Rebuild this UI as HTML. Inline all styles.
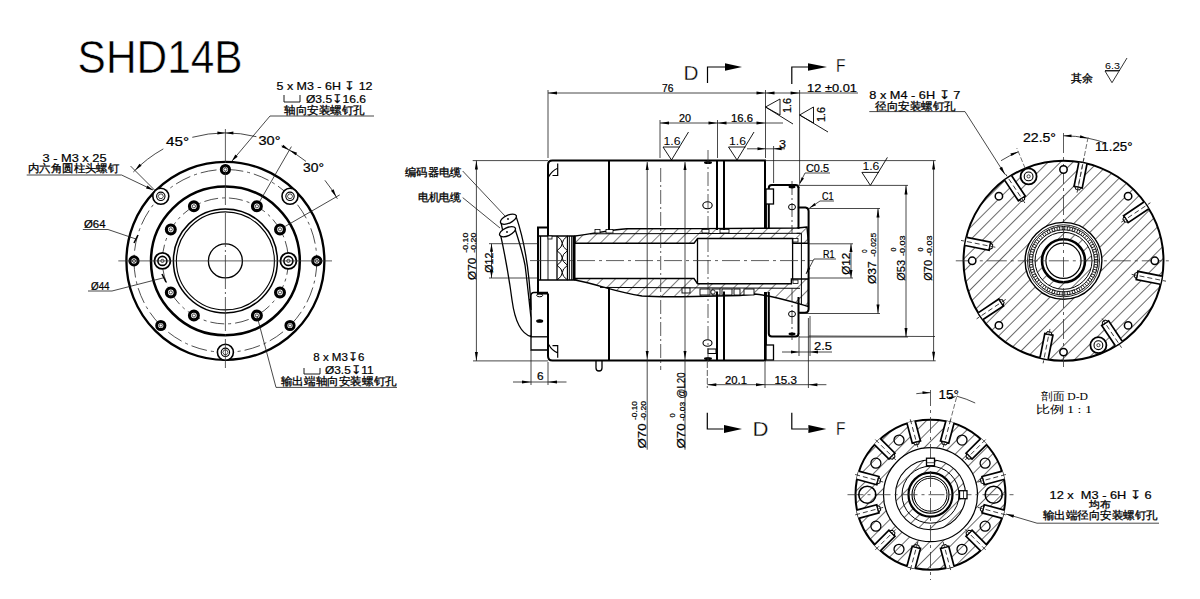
<!DOCTYPE html>
<html><head><meta charset="utf-8"><style>
html,body{margin:0;padding:0;background:#fff;width:1200px;height:599px;overflow:hidden}
svg{display:block}
text{fill:#000}
</style></head><body>
<svg width="1200" height="599" viewBox="0 0 1200 599">
<rect width="1200" height="599" fill="#fff"/>
<defs>
<pattern id="hatch" patternUnits="userSpaceOnUse" x="1.9" width="9" height="9" patternTransform="rotate(45)">
<line x1="0" y1="0" x2="0" y2="9" stroke="#000" stroke-width="1.0"/></pattern>
<pattern id="hatch2" patternUnits="userSpaceOnUse" x="1.65" width="8.8" height="8.8" patternTransform="rotate(45)">
<line x1="0" y1="0" x2="0" y2="8.8" stroke="#000" stroke-width="1.15"/></pattern>
</defs>
<text x="77.6" y="72.8" font-size="45.5" text-anchor="start" font-family='"Liberation Sans", sans-serif' textLength="165" lengthAdjust="spacingAndGlyphs" stroke="#fff" stroke-width="0.5">SHD14B</text>
<circle cx="225.4" cy="260.9" r="99.0" stroke="#000" stroke-width="2.3" fill="none"/>
<circle cx="225.4" cy="260.9" r="91.4" stroke="#222" stroke-width="0.8" fill="none" stroke-dasharray="16 4 3 4"/>
<circle cx="225.4" cy="260.9" r="74.4" stroke="#000" stroke-width="2.5" fill="none"/>
<circle cx="225.4" cy="260.9" r="63.0" stroke="#222" stroke-width="0.8" fill="none" stroke-dasharray="14 4 3 4"/>
<circle cx="225.4" cy="260.9" r="52.0" stroke="#000" stroke-width="1.5" fill="none"/>
<circle cx="225.4" cy="260.9" r="49.0" stroke="#000" stroke-width="1.1" fill="none"/>
<circle cx="225.4" cy="260.9" r="17.0" stroke="#000" stroke-width="1.3" fill="none"/>
<circle cx="316.8" cy="260.9" r="4.1" stroke="#000" stroke-width="3.0" fill="#fff"/>
<circle cx="316.8" cy="260.9" r="1.6" stroke="#000" stroke-width="0.7" fill="none"/>
<circle cx="225.4" cy="169.5" r="4.1" stroke="#000" stroke-width="3.0" fill="#fff"/>
<circle cx="225.4" cy="169.5" r="1.6" stroke="#000" stroke-width="0.7" fill="none"/>
<circle cx="134.0" cy="260.9" r="4.1" stroke="#000" stroke-width="3.0" fill="#fff"/>
<circle cx="134.0" cy="260.9" r="1.6" stroke="#000" stroke-width="0.7" fill="none"/>
<circle cx="160.8" cy="325.5" r="4.1" stroke="#000" stroke-width="3.0" fill="#fff"/>
<circle cx="160.8" cy="325.5" r="1.6" stroke="#000" stroke-width="0.7" fill="none"/>
<circle cx="290.0" cy="325.5" r="4.1" stroke="#000" stroke-width="3.0" fill="#fff"/>
<circle cx="290.0" cy="325.5" r="1.6" stroke="#000" stroke-width="0.7" fill="none"/>
<circle cx="290.0" cy="196.3" r="8.0" stroke="#000" stroke-width="1.6" fill="#fff"/>
<circle cx="290.0" cy="196.3" r="4.2" stroke="#000" stroke-width="1.1" fill="none"/>
<polygon points="292.6,196.3 291.3,198.5 288.7,198.5 287.4,196.3 288.7,194.0 291.3,194.0" stroke="#000" stroke-width="0.7" fill="none"/>
<circle cx="160.8" cy="196.3" r="8.0" stroke="#000" stroke-width="1.6" fill="#fff"/>
<circle cx="160.8" cy="196.3" r="4.2" stroke="#000" stroke-width="1.1" fill="none"/>
<polygon points="163.4,196.3 162.1,198.5 159.5,198.5 158.2,196.3 159.5,194.0 162.1,194.0" stroke="#000" stroke-width="0.7" fill="none"/>
<circle cx="225.4" cy="352.3" r="8.0" stroke="#000" stroke-width="1.6" fill="#fff"/>
<circle cx="225.4" cy="352.3" r="4.2" stroke="#000" stroke-width="1.1" fill="none"/>
<polygon points="228.0,352.3 226.7,354.6 224.1,354.6 222.8,352.3 224.1,350.0 226.7,350.0" stroke="#000" stroke-width="0.7" fill="none"/>
<circle cx="280.0" cy="229.4" r="4.4" stroke="#000" stroke-width="3.2" fill="#fff"/>
<circle cx="280.0" cy="229.4" r="1.6" stroke="#000" stroke-width="0.7" fill="none"/>
<circle cx="256.9" cy="206.3" r="4.4" stroke="#000" stroke-width="3.2" fill="#fff"/>
<circle cx="256.9" cy="206.3" r="1.6" stroke="#000" stroke-width="0.7" fill="none"/>
<circle cx="193.9" cy="206.3" r="4.4" stroke="#000" stroke-width="3.2" fill="#fff"/>
<circle cx="193.9" cy="206.3" r="1.6" stroke="#000" stroke-width="0.7" fill="none"/>
<circle cx="170.8" cy="229.4" r="4.4" stroke="#000" stroke-width="3.2" fill="#fff"/>
<circle cx="170.8" cy="229.4" r="1.6" stroke="#000" stroke-width="0.7" fill="none"/>
<circle cx="170.8" cy="292.4" r="4.4" stroke="#000" stroke-width="3.2" fill="#fff"/>
<circle cx="170.8" cy="292.4" r="1.6" stroke="#000" stroke-width="0.7" fill="none"/>
<circle cx="193.9" cy="315.5" r="4.4" stroke="#000" stroke-width="3.2" fill="#fff"/>
<circle cx="193.9" cy="315.5" r="1.6" stroke="#000" stroke-width="0.7" fill="none"/>
<circle cx="256.9" cy="315.5" r="4.4" stroke="#000" stroke-width="3.2" fill="#fff"/>
<circle cx="256.9" cy="315.5" r="1.6" stroke="#000" stroke-width="0.7" fill="none"/>
<circle cx="280.0" cy="292.4" r="4.4" stroke="#000" stroke-width="3.2" fill="#fff"/>
<circle cx="280.0" cy="292.4" r="1.6" stroke="#000" stroke-width="0.7" fill="none"/>
<circle cx="288.4" cy="260.9" r="8.0" stroke="#000" stroke-width="1.8" fill="#fff"/>
<circle cx="288.4" cy="260.9" r="4.5" stroke="#000" stroke-width="1.6" fill="none"/>
<circle cx="288.4" cy="260.9" r="1.6" stroke="#000" stroke-width="0.7" fill="none"/>
<circle cx="162.4" cy="260.9" r="8.0" stroke="#000" stroke-width="1.8" fill="#fff"/>
<circle cx="162.4" cy="260.9" r="4.5" stroke="#000" stroke-width="1.6" fill="none"/>
<circle cx="162.4" cy="260.9" r="1.6" stroke="#000" stroke-width="0.7" fill="none"/>
<line x1="118.3" y1="260.9" x2="332.0" y2="260.9" stroke="#333" stroke-width="0.8" fill="none"/>
<line x1="225.4" y1="129.0" x2="225.4" y2="368.0" stroke="#333" stroke-width="0.8" fill="none" stroke-dasharray="34 3 2 3"/>
<path d="M133.3,172.0 A128,128 0 0 1 163.3,148.9" stroke="#1a1a1a" stroke-width="0.8" fill="none"/>
<path d="M192.3,137.3 A128,128 0 0 1 256.4,136.7" stroke="#1a1a1a" stroke-width="0.8" fill="none"/>
<path d="M281.5,145.9 A128,128 0 0 1 306.0,161.4" stroke="#1a1a1a" stroke-width="0.8" fill="none"/>
<path d="M324.9,180.3 A128,128 0 0 1 337.4,198.8" stroke="#1a1a1a" stroke-width="0.8" fill="none"/>
<path d="M134.9,170.4 L139.5,163.7 L141.6,165.8 Z" fill="#000"/>
<path d="M225.4,132.9 L217.4,134.4 L217.4,131.4 Z" fill="#000"/>
<path d="M289.4,150.0 L297.1,152.7 L295.6,155.3 Z" fill="#000"/>
<path d="M336.3,196.9 L331.0,190.7 L333.6,189.2 Z" fill="#000"/>
<path d="M289.4,150.0 L281.7,147.3 L283.2,144.7 Z" fill="#000"/>
<path d="M225.4,132.9 L233.4,131.4 L233.4,134.4 Z" fill="#000"/>
<line x1="155.4" y1="190.9" x2="130.6" y2="166.1" stroke="#1a1a1a" stroke-width="0.8" fill="none"/>
<line x1="259.9" y1="201.1" x2="291.4" y2="146.6" stroke="#1a1a1a" stroke-width="0.8" fill="none"/>
<line x1="285.2" y1="226.4" x2="339.7" y2="194.9" stroke="#1a1a1a" stroke-width="0.8" fill="none"/>
<text x="166.0" y="146.0" font-size="12.5" text-anchor="start" font-family='"Liberation Sans", sans-serif' textLength="23" lengthAdjust="spacingAndGlyphs"  stroke="#000" stroke-width="0.22">45°</text>
<text x="258.5" y="145.0" font-size="12.5" text-anchor="start" font-family='"Liberation Sans", sans-serif' textLength="22" lengthAdjust="spacingAndGlyphs"  stroke="#000" stroke-width="0.22">30°</text>
<text x="303.0" y="172.0" font-size="12.5" text-anchor="start" font-family='"Liberation Sans", sans-serif' textLength="21" lengthAdjust="spacingAndGlyphs"  stroke="#000" stroke-width="0.22">30°</text>
<text x="324.5" y="90.0" font-size="11.5" text-anchor="middle" font-family='"Liberation Sans", sans-serif' textLength="96" lengthAdjust="spacingAndGlyphs"  stroke="#000" stroke-width="0.22">5 x M3 - 6H ↧ 12</text>
<path d="M284,95 v7 h16 v-7" stroke="#000" stroke-width="0.9" fill="none"/>
<text x="306.0" y="103.0" font-size="11.5" text-anchor="start" font-family='"Liberation Sans", sans-serif' textLength="60" lengthAdjust="spacingAndGlyphs"  stroke="#000" stroke-width="0.22">Ø3.5↧16.6</text>
<text x="324.5" y="113.7" font-size="11" text-anchor="middle" font-family='"Liberation Sans", sans-serif' textLength="81" lengthAdjust="spacingAndGlyphs"  stroke="#000" stroke-width="0.3">轴向安装螺钉孔</text>
<line x1="270.0" y1="116.0" x2="374.0" y2="116.0" stroke="#1a1a1a" stroke-width="0.8" fill="none"/>
<line x1="270.0" y1="116.0" x2="232.0" y2="161.0" stroke="#1a1a1a" stroke-width="0.8" fill="none"/>
<path d="M232.0,161.0 L235.3,154.6 L237.7,156.7 Z" fill="#000"/>
<text x="74.5" y="162.2" font-size="11.5" text-anchor="middle" font-family='"Liberation Sans", sans-serif' textLength="64" lengthAdjust="spacingAndGlyphs"  stroke="#000" stroke-width="0.22">3 - M3 x 25</text>
<text x="73.5" y="171.7" font-size="11" text-anchor="middle" font-family='"Liberation Sans", sans-serif' textLength="91" lengthAdjust="spacingAndGlyphs"  stroke="#000" stroke-width="0.3">内六角圆柱头螺钉</text>
<line x1="26.7" y1="175.0" x2="121.6" y2="175.0" stroke="#1a1a1a" stroke-width="0.8" fill="none"/>
<line x1="121.6" y1="175.0" x2="153.0" y2="190.0" stroke="#1a1a1a" stroke-width="0.8" fill="none"/>
<path d="M153.0,190.0 L146.0,188.4 L147.4,185.5 Z" fill="#000"/>
<text x="84.0" y="228.0" font-size="11" text-anchor="start" font-family='"Liberation Sans", sans-serif' textLength="21.5" lengthAdjust="spacingAndGlyphs"  stroke="#000" stroke-width="0.22">Ø64</text>
<line x1="82.8" y1="229.5" x2="108.0" y2="229.5" stroke="#1a1a1a" stroke-width="0.8" fill="none"/>
<line x1="108.0" y1="229.5" x2="136.0" y2="239.0" stroke="#1a1a1a" stroke-width="0.8" fill="none"/>
<line x1="134.0" y1="243.0" x2="138.0" y2="235.0" stroke="#000" stroke-width="1.6"/>
<text x="91.0" y="290.0" font-size="11" text-anchor="start" font-family='"Liberation Sans", sans-serif' textLength="18.6" lengthAdjust="spacingAndGlyphs"  stroke="#000" stroke-width="0.22">Ø44</text>
<line x1="88.0" y1="291.0" x2="112.0" y2="291.0" stroke="#1a1a1a" stroke-width="0.8" fill="none"/>
<line x1="112.0" y1="291.0" x2="164.0" y2="277.7" stroke="#1a1a1a" stroke-width="0.8" fill="none"/>
<line x1="162.0" y1="274.0" x2="166.0" y2="282.0" stroke="#000" stroke-width="1.6"/>
<text x="338.8" y="361.4" font-size="11.5" text-anchor="middle" font-family='"Liberation Sans", sans-serif' textLength="51" lengthAdjust="spacingAndGlyphs"  stroke="#000" stroke-width="0.22">8 x M3↧6</text>
<path d="M304,368 v6 h16 v-6" stroke="#000" stroke-width="0.9" fill="none"/>
<text x="325.0" y="374.0" font-size="11.5" text-anchor="start" font-family='"Liberation Sans", sans-serif' textLength="48.5" lengthAdjust="spacingAndGlyphs"  stroke="#000" stroke-width="0.22">Ø3.5↧11</text>
<text x="338.8" y="385.2" font-size="11" text-anchor="middle" font-family='"Liberation Sans", sans-serif' textLength="116" lengthAdjust="spacingAndGlyphs"  stroke="#000" stroke-width="0.3">输出端轴向安装螺钉孔</text>
<line x1="276.0" y1="387.4" x2="397.0" y2="387.4" stroke="#1a1a1a" stroke-width="0.8" fill="none"/>
<line x1="276.0" y1="387.4" x2="257.0" y2="316.0" stroke="#1a1a1a" stroke-width="0.8" fill="none"/>
<path d="M575,236 C595,233.5 610,230 627,228.8 L700,228.6 L796.7,228 Q803,227.5 807,227 L808.4,243.2 L792.6,243.2 L792.6,238.5 L697.6,238.5 L694,243.2 L575,243.2 Z" fill="url(#hatch)" stroke="#000" stroke-width="1.4"/>
<path d="M575,278.5 L694,278.5 L697.5,283.7 L791.4,283.7 L791.4,279 L808.4,279 L808.4,306.5 C790,301 775,296 754.7,294 L740,295.5 L694,296.5 C670,297 655,297 642,296 C615,292 600,285 575,280 Z" fill="url(#hatch)" stroke="#000" stroke-width="1.4"/>
<line x1="590.0" y1="233.8" x2="800.0" y2="233.3" stroke="#000" stroke-width="1.0"/>
<line x1="600.0" y1="287.4" x2="800.0" y2="288.3" stroke="#000" stroke-width="1.0"/>
<rect x="595" y="229.5" width="5" height="3.5" stroke="#000" stroke-width="0.8" fill="#fff"/>
<rect x="606" y="229.5" width="7" height="3.5" stroke="#000" stroke-width="0.8" fill="#fff"/>
<rect x="702" y="229.5" width="7" height="3.5" stroke="#000" stroke-width="0.8" fill="#fff"/>
<rect x="720" y="229.5" width="9" height="3.5" stroke="#000" stroke-width="0.8" fill="#fff"/>
<rect x="700" y="289" width="10" height="6" stroke="#000" stroke-width="0.9" fill="#fff"/>
<rect x="712" y="289" width="8" height="6" stroke="#000" stroke-width="0.9" fill="#fff"/>
<rect x="722" y="289" width="10" height="6" stroke="#000" stroke-width="0.9" fill="#fff"/>
<rect x="734" y="289" width="6" height="6" stroke="#000" stroke-width="0.9" fill="#fff"/>
<rect x="744" y="289" width="10" height="6" stroke="#000" stroke-width="0.9" fill="#fff"/>
<circle cx="713" cy="292" r="2.2" stroke="#000" stroke-width="0.9" fill="#fff"/>
<rect x="682" y="288" width="8" height="5" stroke="#000" stroke-width="0.9" fill="#fff"/>
<line x1="697.5" y1="238.5" x2="697.5" y2="283.7" stroke="#000" stroke-width="1.3" fill="none"/>
<line x1="792.6" y1="238.5" x2="792.6" y2="279.0" stroke="#000" stroke-width="1.3" fill="none"/>
<path d="M796.7,233.3 L801.4,233.3 L801.4,304.7" stroke="#000" stroke-width="1.0" fill="none"/>
<rect x="793" y="238.5" width="5" height="3.5" stroke="#000" stroke-width="0.8" fill="#fff"/>
<rect x="793" y="280" width="5" height="3.5" stroke="#000" stroke-width="0.8" fill="#fff"/>
<path d="M548,236 L548,165 Q548,160.6 552.5,160.6 L765,160.6 L765,229" stroke="#000" stroke-width="2" fill="none"/>
<path d="M548,293.5 L548,356 Q548,360.6 552.5,360.6 L765,360.6 L765,292" stroke="#000" stroke-width="2" fill="none"/>
<line x1="609.0" y1="160.6" x2="609.0" y2="230.0" stroke="#000" stroke-width="2" fill="none"/>
<line x1="717.0" y1="160.6" x2="717.0" y2="230.0" stroke="#000" stroke-width="2" fill="none"/>
<line x1="724.0" y1="160.6" x2="724.0" y2="230.0" stroke="#000" stroke-width="2" fill="none"/>
<line x1="609.0" y1="360.6" x2="609.0" y2="287.5" stroke="#000" stroke-width="2" fill="none"/>
<line x1="717.0" y1="360.6" x2="717.0" y2="291.5" stroke="#000" stroke-width="2" fill="none"/>
<line x1="724.0" y1="360.6" x2="724.0" y2="291.5" stroke="#000" stroke-width="2" fill="none"/>
<rect x="708" y="349" width="8" height="4.5" stroke="#000" stroke-width="1" fill="#fff"/>
<path d="M548.5,177 Q552,170.5 557.7,168.3 M557.7,163.4 L557.7,175.5 L552.5,175.5" stroke="#000" stroke-width="1.2" fill="none"/>
<path d="M548.5,344.2 Q552,350.7 557.7,352.9 M557.7,357.8 L557.7,345.7 L552.5,345.7" stroke="#000" stroke-width="1.2" fill="none"/>
<ellipse cx="707.5" cy="205.3" rx="4.7" ry="3.5" stroke="#000" stroke-width="1.1" fill="none"/>
<ellipse cx="707.5" cy="343" rx="4.5" ry="3.3" stroke="#000" stroke-width="1.1" fill="none"/>
<ellipse cx="708" cy="162.5" rx="4" ry="1.5" fill="#000"/>
<ellipse cx="708" cy="358.5" rx="4" ry="1.5" fill="#000"/>
<path d="M548,227.5 L538,227.5 L538,293.5 L548,293.5" stroke="#000" stroke-width="2" fill="none"/>
<line x1="540.5" y1="236.0" x2="540.5" y2="280.0" stroke="#000" stroke-width="1.3" fill="none"/>
<line x1="538.0" y1="236.0" x2="575.0" y2="236.0" stroke="#000" stroke-width="1.3" fill="none"/>
<line x1="538.0" y1="280.0" x2="575.0" y2="280.0" stroke="#000" stroke-width="1.3" fill="none"/>
<line x1="548.0" y1="236.0" x2="548.0" y2="280.0" stroke="#000" stroke-width="0.9"/>
<line x1="557.0" y1="236.0" x2="557.0" y2="280.0" stroke="#000" stroke-width="1.3" fill="none"/>
<line x1="567.5" y1="236.0" x2="567.5" y2="280.0" stroke="#000" stroke-width="1.3" fill="none"/>
<path d="M557,236.0 Q567.5,243.3 557,250.7" stroke="#000" stroke-width="1.0" fill="none"/>
<path d="M567.5,236.0 Q557,243.3 567.5,250.7" stroke="#000" stroke-width="1.0" fill="none"/>
<path d="M557,250.7 Q567.5,258.0 557,265.3" stroke="#000" stroke-width="1.0" fill="none"/>
<path d="M567.5,250.7 Q557,258.0 567.5,265.3" stroke="#000" stroke-width="1.0" fill="none"/>
<path d="M557,265.3 Q567.5,272.7 557,280.0" stroke="#000" stroke-width="1.0" fill="none"/>
<path d="M567.5,265.3 Q557,272.7 567.5,280.0" stroke="#000" stroke-width="1.0" fill="none"/>
<line x1="569.5" y1="236.0" x2="569.5" y2="280.0" stroke="#000" stroke-width="0.8"/>
<line x1="571.5" y1="236.0" x2="571.5" y2="280.0" stroke="#000" stroke-width="0.8"/>
<rect x="572.5" y="236" width="3" height="44" fill="#000"/>
<rect x="548" y="236" width="4" height="3" stroke="#000" stroke-width="0.8" fill="#fff"/>
<path d="M768.8,229 L768.8,188 Q768.8,185 771.8,185 L795.5,185 Q798.5,185 798.5,188" stroke="#000" stroke-width="2" fill="none"/>
<path d="M768.8,292 L768.8,333.6 Q768.8,336.6 771.8,336.6 L795.5,336.6 Q798.5,336.6 798.5,333.6" stroke="#000" stroke-width="2" fill="none"/>
<rect x="766" y="189" width="7.5" height="15" stroke="#000" stroke-width="1.3" fill="#fff"/>
<rect x="766" y="345" width="7.5" height="15" stroke="#000" stroke-width="1.3" fill="#fff"/>
<line x1="766.3" y1="204.0" x2="766.3" y2="229.0" stroke="#000" stroke-width="1.3" fill="none"/>
<line x1="766.3" y1="292.0" x2="766.3" y2="345.0" stroke="#000" stroke-width="1.3" fill="none"/>
<line x1="792.0" y1="181.0" x2="792.0" y2="233.0" stroke="#222" stroke-width="0.8" fill="none" stroke-dasharray="14 3 2 3"/>
<line x1="792.0" y1="288.0" x2="792.0" y2="340.0" stroke="#222" stroke-width="0.8" fill="none" stroke-dasharray="14 3 2 3"/>
<ellipse cx="792" cy="187" rx="3.5" ry="1.4" fill="#000"/>
<ellipse cx="792" cy="207" rx="3.5" ry="2.8" stroke="#000" stroke-width="1" fill="none"/>
<ellipse cx="792" cy="314" rx="3.5" ry="2.8" stroke="#000" stroke-width="1" fill="none"/>
<ellipse cx="792" cy="334" rx="3.5" ry="1.4" fill="#000"/>
<path d="M797.8,207.6 L805.5,207.6 Q808.4,208 808.6,211 L808.6,309.3 Q808.4,312.8 805,312.8 L798.4,312.8" stroke="#000" stroke-width="2" fill="none"/>
<line x1="798.5" y1="187.0" x2="798.5" y2="229.0" stroke="#000" stroke-width="2" fill="none"/>
<line x1="798.5" y1="297.0" x2="798.5" y2="334.0" stroke="#000" stroke-width="2" fill="none"/>
<line x1="548.0" y1="260.6" x2="813.0" y2="260.6" stroke="#333" stroke-width="0.8" fill="none" stroke-dasharray="18 4 3 4"/>
<line x1="530.0" y1="260.6" x2="548.0" y2="260.6" stroke="#333" stroke-width="0.8" fill="none" stroke-dasharray="18 4 3 4"/>
<line x1="660.7" y1="168.0" x2="660.7" y2="370.0" stroke="#333" stroke-width="0.8" fill="none" stroke-dasharray="14 3 2 3"/>
<line x1="708.0" y1="150.0" x2="708.0" y2="362.0" stroke="#333" stroke-width="0.8" fill="none" stroke-dasharray="14 3 2 3"/>
<line x1="647.2" y1="162.0" x2="647.2" y2="449.7" stroke="#1a1a1a" stroke-width="0.8" fill="none"/>
<line x1="685.0" y1="162.0" x2="685.0" y2="449.7" stroke="#1a1a1a" stroke-width="0.8" fill="none"/>
<path d="M647.2,162.0 L648.7,170.0 L645.7,170.0 Z" fill="#000"/>
<path d="M685.0,162.0 L686.5,170.0 L683.5,170.0 Z" fill="#000"/>
<path d="M647.2,359.0 L645.7,351.0 L648.7,351.0 Z" fill="#000"/>
<path d="M685.0,359.0 L683.5,351.0 L686.5,351.0 Z" fill="#000"/>
<path d="M531,296 Q531,292.5 534,292.5 L548,292.5 M531,296 L531,350 L548,350" stroke="#000" stroke-width="1.3" fill="none"/>
<line x1="531.0" y1="336.8" x2="548.0" y2="336.8" stroke="#000" stroke-width="1.3" fill="none"/>
<ellipse cx="539.7" cy="295.3" rx="3" ry="1.5" stroke="#000" stroke-width="1" fill="none"/>
<ellipse cx="539.7" cy="321" rx="3" ry="1.3" stroke="#000" stroke-width="1.1" fill="#000"/>
<path d="M596,361 L596,368 Q596,371 599,371 Q602,371 602,368 L602,361" stroke="#000" stroke-width="1.3" fill="none"/>
<path d="M500.8,221.7 C505,240 509,260 512,290 L530,300 L531,310 C530,280 526,245 515.9,215.9 Z" stroke="#000" stroke-width="1.3" fill="#fff"/>
<ellipse cx="508.4" cy="219.2" rx="8.6" ry="4" transform="rotate(-25 508.4 219.2)" stroke="#000" stroke-width="1.3" fill="#fff"/>
<path d="M500.4,234.2 C505,255 510,285 512,300 C515,322 522,334 531,336.5 L531,318 C529,300 527,280 525,265 C522,250 518,238 515,229 Z" stroke="#000" stroke-width="1.3" fill="#fff"/>
<ellipse cx="507.5" cy="231.7" rx="8.6" ry="4" transform="rotate(-25 507.5 231.7)" stroke="#000" stroke-width="1.3" fill="#fff"/>
<circle cx="508" cy="219" r="0.9" fill="#000"/><circle cx="507" cy="232" r="0.9" fill="#000"/>
<line x1="548.0" y1="90.0" x2="548.0" y2="158.0" stroke="#1a1a1a" stroke-width="0.8" fill="none"/>
<line x1="765.5" y1="90.0" x2="765.5" y2="158.0" stroke="#1a1a1a" stroke-width="0.8" fill="none"/>
<line x1="799.6" y1="90.0" x2="799.6" y2="183.0" stroke="#1a1a1a" stroke-width="0.8" fill="none"/>
<line x1="548.0" y1="93.0" x2="858.0" y2="93.0" stroke="#1a1a1a" stroke-width="0.8" fill="none"/>
<text x="662.0" y="92.0" font-size="11.5" text-anchor="start" font-family='"Liberation Sans", sans-serif' textLength="11.5" lengthAdjust="spacingAndGlyphs"  stroke="#000" stroke-width="0.22">76</text>
<path d="M548.0,93.0 L557.0,91.5 L557.0,94.5 Z" fill="#000"/>
<path d="M765.5,93.0 L756.5,94.5 L756.5,91.5 Z" fill="#000"/>
<path d="M765.5,93.0 L774.5,91.5 L774.5,94.5 Z" fill="#000"/>
<path d="M799.6,93.0 L790.6,94.5 L790.6,91.5 Z" fill="#000"/>
<text x="807.0" y="92.0" font-size="11.5" text-anchor="start" font-family='"Liberation Sans", sans-serif' textLength="50" lengthAdjust="spacingAndGlyphs"  stroke="#000" stroke-width="0.22">12 ±0.01</text>
<line x1="660.0" y1="120.0" x2="660.0" y2="158.0" stroke="#1a1a1a" stroke-width="0.8" fill="none"/>
<line x1="717.5" y1="120.0" x2="717.5" y2="158.0" stroke="#1a1a1a" stroke-width="0.8" fill="none"/>
<line x1="660.0" y1="123.0" x2="765.5" y2="123.0" stroke="#1a1a1a" stroke-width="0.8" fill="none"/>
<path d="M660.0,123.0 L669.0,121.5 L669.0,124.5 Z" fill="#000"/>
<path d="M717.5,123.0 L708.5,124.5 L708.5,121.5 Z" fill="#000"/>
<path d="M717.5,123.0 L726.5,121.5 L726.5,124.5 Z" fill="#000"/>
<path d="M765.5,123.0 L756.5,124.5 L756.5,121.5 Z" fill="#000"/>
<line x1="765.5" y1="123.0" x2="783.0" y2="123.0" stroke="#1a1a1a" stroke-width="0.8" fill="none"/>
<text x="679.0" y="121.6" font-size="11.5" text-anchor="start" font-family='"Liberation Sans", sans-serif' textLength="12" lengthAdjust="spacingAndGlyphs"  stroke="#000" stroke-width="0.22">20</text>
<text x="731.0" y="121.6" font-size="11.5" text-anchor="start" font-family='"Liberation Sans", sans-serif' textLength="22" lengthAdjust="spacingAndGlyphs"  stroke="#000" stroke-width="0.22">16.6</text>
<line x1="773.6" y1="146.0" x2="773.6" y2="183.0" stroke="#1a1a1a" stroke-width="0.8" fill="none"/>
<line x1="747.0" y1="148.8" x2="785.0" y2="148.8" stroke="#1a1a1a" stroke-width="0.8" fill="none"/>
<path d="M765.5,148.8 L757.5,150.3 L757.5,147.3 Z" fill="#000"/>
<path d="M773.6,148.8 L781.6,147.3 L781.6,150.3 Z" fill="#000"/>
<text x="779.0" y="148.0" font-size="11.5" text-anchor="start" font-family='"Liberation Sans", sans-serif' textLength="7" lengthAdjust="spacingAndGlyphs"  stroke="#000" stroke-width="0.22">3</text>
<g transform="rotate(0 671.5 160)"><path d="M680.0,147 L663.0,147 L671.5,160 L688.5,132" stroke="#000" stroke-width="0.9" fill="none"/><text x="663.5" y="145" font-size="11.5" font-family='"Liberation Sans", sans-serif' textLength="17" lengthAdjust="spacingAndGlyphs">1.6</text></g>
<g transform="rotate(0 737 160)"><path d="M745.5,147 L728.5,147 L737,160 L754,132" stroke="#000" stroke-width="0.9" fill="none"/><text x="729" y="145" font-size="11.5" font-family='"Liberation Sans", sans-serif' textLength="17" lengthAdjust="spacingAndGlyphs">1.6</text></g>
<g transform="rotate(0 870.4 185.4)"><path d="M878.9,172.4 L861.9,172.4 L870.4,185.4 L887.4,157.4" stroke="#000" stroke-width="0.9" fill="none"/><text x="862.4" y="170.4" font-size="11.5" font-family='"Liberation Sans", sans-serif' textLength="17" lengthAdjust="spacingAndGlyphs">1.6</text></g>
<path d="M780,99 L780,115 L765.5,107 L780,99 M765.5,107 L793,124" stroke="#000" stroke-width="0.9" fill="none"/>
<text transform="translate(790.5,113) rotate(-90)" font-size="11" font-family='"Liberation Sans", sans-serif' textLength="15" lengthAdjust="spacingAndGlyphs" stroke="#000" stroke-width="0.22">1.6</text>
<path d="M813.5,107 L813.5,123 L799.6,115 L813.5,107 M799.6,115 L828,132" stroke="#000" stroke-width="0.9" fill="none"/>
<text transform="translate(824.5,122) rotate(-90)" font-size="11" font-family='"Liberation Sans", sans-serif' textLength="15" lengthAdjust="spacingAndGlyphs" stroke="#000" stroke-width="0.22">1.6</text>
<path d="M707.5,83 L707.5,67 L725,67" stroke="#000" stroke-width="1.2" fill="none"/>
<path d="M742.0,67.0 L725.0,70.8 L725.0,63.2 Z" fill="#000"/>
<text x="683.5" y="80.0" font-size="19.5" text-anchor="start" font-family='"Liberation Sans", sans-serif' textLength="15" lengthAdjust="spacingAndGlyphs" stroke="#fff" stroke-width="0.3">D</text>
<path d="M791.8,84 L791.8,67 L808,67" stroke="#000" stroke-width="1.2" fill="none"/>
<path d="M827.0,67.0 L808.0,70.8 L808.0,63.2 Z" fill="#000"/>
<text x="836.0" y="72.0" font-size="19" text-anchor="start" font-family='"Liberation Sans", sans-serif' textLength="9.5" lengthAdjust="spacingAndGlyphs" stroke="#fff" stroke-width="0.3">F</text>
<path d="M707.3,412.8 L707.3,429 L723.5,429" stroke="#000" stroke-width="1.2" fill="none"/>
<path d="M742.0,429.0 L724.0,433.0 L724.0,425.0 Z" fill="#000"/>
<text x="752.5" y="435.6" font-size="20.5" text-anchor="start" font-family='"Liberation Sans", sans-serif' textLength="16" lengthAdjust="spacingAndGlyphs" stroke="#fff" stroke-width="0.3">D</text>
<path d="M791.8,412.8 L791.8,429 L808,429" stroke="#000" stroke-width="1.2" fill="none"/>
<path d="M826.4,429.0 L808.4,433.0 L808.4,425.0 Z" fill="#000"/>
<text x="836.0" y="434.5" font-size="19" text-anchor="start" font-family='"Liberation Sans", sans-serif' textLength="9.5" lengthAdjust="spacingAndGlyphs" stroke="#fff" stroke-width="0.3">F</text>
<line x1="707.3" y1="362.0" x2="707.3" y2="388.0" stroke="#333" stroke-width="0.8" stroke-dasharray="6 2"/>
<line x1="765.0" y1="362.0" x2="765.0" y2="388.0" stroke="#1a1a1a" stroke-width="0.8" fill="none"/>
<line x1="808.4" y1="318.0" x2="808.4" y2="388.0" stroke="#1a1a1a" stroke-width="0.8" fill="none"/>
<line x1="707.3" y1="384.7" x2="826.4" y2="384.7" stroke="#1a1a1a" stroke-width="0.8" fill="none"/>
<path d="M707.3,384.7 L716.3,383.2 L716.3,386.2 Z" fill="#000"/>
<path d="M765.0,384.7 L756.0,386.2 L756.0,383.2 Z" fill="#000"/>
<path d="M808.4,384.7 L817.4,383.2 L817.4,386.2 Z" fill="#000"/>
<text x="725.0" y="383.6" font-size="11.5" text-anchor="start" font-family='"Liberation Sans", sans-serif' textLength="22" lengthAdjust="spacingAndGlyphs"  stroke="#000" stroke-width="0.22">20.1</text>
<text x="774.4" y="383.6" font-size="11.5" text-anchor="start" font-family='"Liberation Sans", sans-serif' textLength="22.6" lengthAdjust="spacingAndGlyphs"  stroke="#000" stroke-width="0.22">15.3</text>
<line x1="531.0" y1="350.0" x2="531.0" y2="385.0" stroke="#1a1a1a" stroke-width="0.8" fill="none"/>
<line x1="548.0" y1="362.0" x2="548.0" y2="385.0" stroke="#1a1a1a" stroke-width="0.8" fill="none"/>
<line x1="513.0" y1="382.0" x2="566.5" y2="382.0" stroke="#1a1a1a" stroke-width="0.8" fill="none"/>
<path d="M531.0,382.0 L522.0,383.5 L522.0,380.5 Z" fill="#000"/>
<path d="M548.0,382.0 L557.0,380.5 L557.0,383.5 Z" fill="#000"/>
<text x="537.0" y="380.0" font-size="11.5" text-anchor="start" font-family='"Liberation Sans", sans-serif' textLength="6.6" lengthAdjust="spacingAndGlyphs"  stroke="#000" stroke-width="0.22">6</text>
<line x1="799.0" y1="336.0" x2="799.0" y2="356.0" stroke="#1a1a1a" stroke-width="0.8" fill="none"/>
<line x1="810.0" y1="316.0" x2="810.0" y2="356.0" stroke="#1a1a1a" stroke-width="0.8" fill="none"/>
<line x1="782.0" y1="352.0" x2="832.0" y2="352.0" stroke="#1a1a1a" stroke-width="0.8" fill="none"/>
<path d="M799.0,352.0 L791.0,353.5 L791.0,350.5 Z" fill="#000"/>
<path d="M810.0,352.0 L818.0,350.5 L818.0,353.5 Z" fill="#000"/>
<text x="814.0" y="350.0" font-size="11.5" text-anchor="start" font-family='"Liberation Sans", sans-serif' textLength="18" lengthAdjust="spacingAndGlyphs"  stroke="#000" stroke-width="0.22">2.5</text>
<line x1="809.0" y1="336.0" x2="935.0" y2="336.5" stroke="#1a1a1a" stroke-width="0.8" fill="none"/>
<text transform="translate(646.2,448.5) rotate(-90)" font-size="10.5" font-family='"Liberation Sans", sans-serif' textLength="25" lengthAdjust="spacingAndGlyphs" stroke="#000" stroke-width="0.22">Ø70</text>
<text transform="translate(637,420) rotate(-90)" font-size="6.5" font-family='"Liberation Sans", sans-serif' textLength="19" lengthAdjust="spacingAndGlyphs" stroke="#000" stroke-width="0.22">-0.10</text>
<text transform="translate(646.2,420.5) rotate(-90)" font-size="6.5" font-family='"Liberation Sans", sans-serif' textLength="19.5" lengthAdjust="spacingAndGlyphs" stroke="#000" stroke-width="0.22">-0.20</text>
<text transform="translate(684.6,448.5) rotate(-90)" font-size="10.5" font-family='"Liberation Sans", sans-serif' textLength="25" lengthAdjust="spacingAndGlyphs" stroke="#000" stroke-width="0.22">Ø70</text>
<text transform="translate(684.6,421) rotate(-90)" font-size="6.5" font-family='"Liberation Sans", sans-serif' textLength="19.3" lengthAdjust="spacingAndGlyphs" stroke="#000" stroke-width="0.22">-0.03</text>
<text transform="translate(675.3,417.6) rotate(-90)" font-size="6.5" font-family='"Liberation Sans", sans-serif' textLength="4.2" lengthAdjust="spacingAndGlyphs" stroke="#000" stroke-width="0.22">0</text>
<text transform="translate(684.6,398.4) rotate(-90)" font-size="10.5" font-family='"Liberation Sans", sans-serif' textLength="26" lengthAdjust="spacingAndGlyphs" stroke="#000" stroke-width="0.22">@L20</text>
<line x1="472.7" y1="160.6" x2="548.0" y2="160.6" stroke="#1a1a1a" stroke-width="0.8" fill="none"/>
<line x1="473.0" y1="360.9" x2="548.0" y2="360.9" stroke="#1a1a1a" stroke-width="0.8" fill="none"/>
<line x1="476.4" y1="160.6" x2="476.4" y2="360.9" stroke="#1a1a1a" stroke-width="0.8" fill="none"/>
<path d="M476.4,160.6 L477.9,169.6 L474.9,169.6 Z" fill="#000"/>
<path d="M476.4,360.9 L474.9,351.9 L477.9,351.9 Z" fill="#000"/>
<text transform="translate(475.5,280) rotate(-90)" font-size="10.5" font-family='"Liberation Sans", sans-serif' textLength="22.3" lengthAdjust="spacingAndGlyphs" stroke="#000" stroke-width="0.22">Ø70</text>
<text transform="translate(468,252.7) rotate(-90)" font-size="6.5" font-family='"Liberation Sans", sans-serif' textLength="20" lengthAdjust="spacingAndGlyphs" stroke="#000" stroke-width="0.22">-0.10</text>
<text transform="translate(475.5,252.7) rotate(-90)" font-size="6.5" font-family='"Liberation Sans", sans-serif' textLength="20" lengthAdjust="spacingAndGlyphs" stroke="#000" stroke-width="0.22">-0.20</text>
<line x1="489.0" y1="243.7" x2="537.6" y2="243.7" stroke="#1a1a1a" stroke-width="0.8" fill="none"/>
<line x1="489.0" y1="278.0" x2="537.6" y2="278.0" stroke="#1a1a1a" stroke-width="0.8" fill="none"/>
<line x1="491.5" y1="243.7" x2="491.5" y2="278.0" stroke="#1a1a1a" stroke-width="0.8" fill="none"/>
<path d="M491.5,243.7 L493.0,251.7 L490.0,251.7 Z" fill="#000"/>
<path d="M491.5,278.0 L490.0,270.0 L493.0,270.0 Z" fill="#000"/>
<text transform="translate(493,272.7) rotate(-90)" font-size="10" font-family='"Liberation Sans", sans-serif' textLength="20" lengthAdjust="spacingAndGlyphs" stroke="#000" stroke-width="0.22">Ø12</text>
<text x="405.0" y="176.2" font-size="11" text-anchor="start" font-family='"Liberation Sans", sans-serif' textLength="56.4" lengthAdjust="spacingAndGlyphs"  stroke="#000" stroke-width="0.3">编码器电缆</text>
<text x="417.6" y="201.3" font-size="11" text-anchor="start" font-family='"Liberation Sans", sans-serif' textLength="43.8" lengthAdjust="spacingAndGlyphs"  stroke="#000" stroke-width="0.3">电机电缆</text>
<line x1="462.7" y1="171.0" x2="505.0" y2="216.0" stroke="#1a1a1a" stroke-width="0.8" fill="none"/>
<line x1="462.7" y1="197.6" x2="500.0" y2="228.0" stroke="#1a1a1a" stroke-width="0.8" fill="none"/>
<line x1="765.0" y1="160.6" x2="935.7" y2="160.6" stroke="#1a1a1a" stroke-width="0.8" fill="none"/>
<line x1="799.0" y1="185.4" x2="908.0" y2="185.4" stroke="#1a1a1a" stroke-width="0.8" fill="none"/>
<line x1="809.0" y1="208.5" x2="880.0" y2="208.5" stroke="#1a1a1a" stroke-width="0.8" fill="none"/>
<line x1="809.0" y1="243.8" x2="853.0" y2="243.8" stroke="#1a1a1a" stroke-width="0.8" fill="none"/>
<line x1="809.0" y1="278.0" x2="853.0" y2="278.0" stroke="#1a1a1a" stroke-width="0.8" fill="none"/>
<line x1="799.0" y1="313.5" x2="880.0" y2="313.5" stroke="#1a1a1a" stroke-width="0.8" fill="none"/>
<line x1="799.0" y1="337.0" x2="908.0" y2="337.0" stroke="#1a1a1a" stroke-width="0.8" fill="none"/>
<line x1="765.0" y1="360.8" x2="935.7" y2="360.8" stroke="#1a1a1a" stroke-width="0.8" fill="none"/>
<line x1="933.6" y1="160.6" x2="933.6" y2="360.8" stroke="#1a1a1a" stroke-width="0.8" fill="none"/>
<path d="M933.6,160.6 L935.1,169.6 L932.1,169.6 Z" fill="#000"/>
<path d="M933.6,360.8 L932.1,351.8 L935.1,351.8 Z" fill="#000"/>
<line x1="906.0" y1="185.4" x2="906.0" y2="337.0" stroke="#1a1a1a" stroke-width="0.8" fill="none"/>
<path d="M906.0,185.4 L907.5,194.4 L904.5,194.4 Z" fill="#000"/>
<path d="M906.0,337.0 L904.5,328.0 L907.5,328.0 Z" fill="#000"/>
<line x1="878.0" y1="208.5" x2="878.0" y2="313.5" stroke="#1a1a1a" stroke-width="0.8" fill="none"/>
<path d="M878.0,208.5 L879.5,217.5 L876.5,217.5 Z" fill="#000"/>
<path d="M878.0,313.5 L876.5,304.5 L879.5,304.5 Z" fill="#000"/>
<line x1="851.0" y1="243.8" x2="851.0" y2="278.0" stroke="#1a1a1a" stroke-width="0.8" fill="none"/>
<path d="M851.0,244.0 L852.5,252.0 L849.5,252.0 Z" fill="#000"/>
<path d="M851.0,278.0 L849.5,270.0 L852.5,270.0 Z" fill="#000"/>
<text transform="translate(849.5,274.7) rotate(-90)" font-size="10.5" font-family='"Liberation Sans", sans-serif' textLength="22" lengthAdjust="spacingAndGlyphs" stroke="#000" stroke-width="0.22">Ø12</text>
<text transform="translate(876,284) rotate(-90)" font-size="11" font-family='"Liberation Sans", sans-serif' textLength="22.6" lengthAdjust="spacingAndGlyphs" stroke="#000" stroke-width="0.22">Ø37</text>
<text transform="translate(876,256.7) rotate(-90)" font-size="7.5" font-family='"Liberation Sans", sans-serif' textLength="24" lengthAdjust="spacingAndGlyphs" stroke="#000" stroke-width="0.22">-0.025</text>
<text transform="translate(866.8,252.7) rotate(-90)" font-size="7.5" font-family='"Liberation Sans", sans-serif' textLength="3.3" lengthAdjust="spacingAndGlyphs" stroke="#000" stroke-width="0.22">0</text>
<text transform="translate(904.8,280.7) rotate(-90)" font-size="11" font-family='"Liberation Sans", sans-serif' textLength="20.7" lengthAdjust="spacingAndGlyphs" stroke="#000" stroke-width="0.22">Ø53</text>
<text transform="translate(904.8,256) rotate(-90)" font-size="7.5" font-family='"Liberation Sans", sans-serif' textLength="20.6" lengthAdjust="spacingAndGlyphs" stroke="#000" stroke-width="0.22">-0.03</text>
<text transform="translate(896,251.4) rotate(-90)" font-size="7.5" font-family='"Liberation Sans", sans-serif' textLength="4" lengthAdjust="spacingAndGlyphs" stroke="#000" stroke-width="0.22">0</text>
<text transform="translate(932.2,280.7) rotate(-90)" font-size="11" font-family='"Liberation Sans", sans-serif' textLength="20.7" lengthAdjust="spacingAndGlyphs" stroke="#000" stroke-width="0.22">Ø70</text>
<text transform="translate(932.2,256) rotate(-90)" font-size="7.5" font-family='"Liberation Sans", sans-serif' textLength="20.6" lengthAdjust="spacingAndGlyphs" stroke="#000" stroke-width="0.22">-0.03</text>
<text transform="translate(923.4,251.4) rotate(-90)" font-size="7.5" font-family='"Liberation Sans", sans-serif' textLength="4" lengthAdjust="spacingAndGlyphs" stroke="#000" stroke-width="0.22">0</text>
<text x="806.0" y="172.0" font-size="11.5" text-anchor="start" font-family='"Liberation Sans", sans-serif' textLength="23" lengthAdjust="spacingAndGlyphs"  stroke="#000" stroke-width="0.22">C0.5</text>
<line x1="805.0" y1="173.0" x2="830.0" y2="173.0" stroke="#1a1a1a" stroke-width="0.8" fill="none"/>
<line x1="805.0" y1="173.0" x2="799.0" y2="185.0" stroke="#1a1a1a" stroke-width="0.8" fill="none"/>
<path d="M799.5,184.0 L801.7,177.2 L804.0,178.5 Z" fill="#000"/>
<text x="822.0" y="200.0" font-size="11.5" text-anchor="start" font-family='"Liberation Sans", sans-serif' textLength="11.5" lengthAdjust="spacingAndGlyphs"  stroke="#000" stroke-width="0.22">C1</text>
<line x1="820.0" y1="201.0" x2="834.0" y2="201.0" stroke="#1a1a1a" stroke-width="0.8" fill="none"/>
<line x1="820.0" y1="201.0" x2="809.5" y2="208.0" stroke="#1a1a1a" stroke-width="0.8" fill="none"/>
<path d="M809.5,208.0 L814.6,203.0 L816.0,205.2 Z" fill="#000"/>
<text x="823.0" y="258.0" font-size="11.5" text-anchor="start" font-family='"Liberation Sans", sans-serif' textLength="11.5" lengthAdjust="spacingAndGlyphs"  stroke="#000" stroke-width="0.22">R1</text>
<line x1="814.0" y1="259.0" x2="836.0" y2="259.0" stroke="#1a1a1a" stroke-width="0.8" fill="none"/>
<line x1="814.0" y1="259.0" x2="806.0" y2="274.0" stroke="#1a1a1a" stroke-width="0.8" fill="none"/>
<path d="M806.0,274.0 L808.1,267.2 L810.4,268.4 Z" fill="#000"/>
<text x="869.3" y="99.0" font-size="11.5" text-anchor="start" font-family='"Liberation Sans", sans-serif' textLength="91" lengthAdjust="spacingAndGlyphs"  stroke="#000" stroke-width="0.22">8 x M4 - 6H ↧ 7</text>
<text x="875.0" y="109.7" font-size="11" text-anchor="start" font-family='"Liberation Sans", sans-serif' textLength="80.7" lengthAdjust="spacingAndGlyphs"  stroke="#000" stroke-width="0.3">径向安装螺钉孔</text>
<line x1="869.3" y1="111.6" x2="965.0" y2="111.6" stroke="#1a1a1a" stroke-width="0.8" fill="none"/>
<line x1="965.0" y1="111.6" x2="1005.0" y2="174.4" stroke="#1a1a1a" stroke-width="0.8" fill="none"/>
<path d="M1005.0,174.4 L999.4,168.5 L1002.0,166.8 Z" fill="#000"/>
<text x="1071.0" y="81.7" font-size="11" text-anchor="start" font-family='"Liberation Sans", sans-serif' textLength="22" lengthAdjust="spacingAndGlyphs"  stroke="#000" stroke-width="0.3">其余</text>
<path d="M1105,70.5 L1120,70.5 M1105,71 L1112,82.7 L1127,58 M1105,71 L1118.5,71" stroke="#000" stroke-width="0.8" fill="none"/>
<text x="1105.0" y="68.8" font-size="9.5" text-anchor="start" font-family='"Liberation Sans", sans-serif' textLength="15" lengthAdjust="spacingAndGlyphs" stroke="none">6.3</text>
<clipPath id="ddclip"><path clip-rule="evenodd" d="M963.5,260.8 a100,100 0 1 0 200,0 a100,100 0 1 0 -200,0 Z M1025.1,260.8 a38.4,38.4 0 1 0 76.8,0 a38.4,38.4 0 1 0 -76.8,0 Z M1035.0,260.8 a28.5,28.5 0 1 0 57,0 a28.5,28.5 0 1 0 -57,0 Z M1042.0,260.8 a21.5,21.5 0 1 0 43,0 a21.5,21.5 0 1 0 -43,0 Z"/></clipPath>
<g clip-path="url(#ddclip)"><rect x="963.5" y="160.8" width="200" height="200" fill="url(#hatch2)"/></g>
<circle cx="1063.5" cy="260.8" r="100.0" stroke="#000" stroke-width="2" fill="none"/>
<circle cx="1063.5" cy="260.8" r="38.4" stroke="#000" stroke-width="1.4" fill="none"/>
<circle cx="1063.5" cy="260.8" r="36.0" stroke="#000" stroke-width="0.9" fill="none"/>
<circle cx="1063.5" cy="260.8" r="34.3" stroke="#000" stroke-width="0.8" fill="none"/>
<circle cx="1063.5" cy="260.8" r="31.0" stroke="#000" stroke-width="0.8" fill="none"/>
<rect x="-1.3" y="-1.6" width="2.6" height="3.2" transform="translate(1063.5,260.8) rotate(0) translate(0,-32.65)" stroke="#000" stroke-width="0.8" fill="#fff"/>
<rect x="-1.3" y="-1.6" width="2.6" height="3.2" transform="translate(1063.5,260.8) rotate(9) translate(0,-32.65)" stroke="#000" stroke-width="0.8" fill="#fff"/>
<rect x="-1.3" y="-1.6" width="2.6" height="3.2" transform="translate(1063.5,260.8) rotate(18) translate(0,-32.65)" stroke="#000" stroke-width="0.8" fill="#fff"/>
<rect x="-1.3" y="-1.6" width="2.6" height="3.2" transform="translate(1063.5,260.8) rotate(27) translate(0,-32.65)" stroke="#000" stroke-width="0.8" fill="#fff"/>
<rect x="-1.3" y="-1.6" width="2.6" height="3.2" transform="translate(1063.5,260.8) rotate(36) translate(0,-32.65)" stroke="#000" stroke-width="0.8" fill="#fff"/>
<rect x="-1.3" y="-1.6" width="2.6" height="3.2" transform="translate(1063.5,260.8) rotate(45) translate(0,-32.65)" stroke="#000" stroke-width="0.8" fill="#fff"/>
<rect x="-1.3" y="-1.6" width="2.6" height="3.2" transform="translate(1063.5,260.8) rotate(54) translate(0,-32.65)" stroke="#000" stroke-width="0.8" fill="#fff"/>
<rect x="-1.3" y="-1.6" width="2.6" height="3.2" transform="translate(1063.5,260.8) rotate(63) translate(0,-32.65)" stroke="#000" stroke-width="0.8" fill="#fff"/>
<rect x="-1.3" y="-1.6" width="2.6" height="3.2" transform="translate(1063.5,260.8) rotate(72) translate(0,-32.65)" stroke="#000" stroke-width="0.8" fill="#fff"/>
<rect x="-1.3" y="-1.6" width="2.6" height="3.2" transform="translate(1063.5,260.8) rotate(81) translate(0,-32.65)" stroke="#000" stroke-width="0.8" fill="#fff"/>
<rect x="-1.3" y="-1.6" width="2.6" height="3.2" transform="translate(1063.5,260.8) rotate(90) translate(0,-32.65)" stroke="#000" stroke-width="0.8" fill="#fff"/>
<rect x="-1.3" y="-1.6" width="2.6" height="3.2" transform="translate(1063.5,260.8) rotate(99) translate(0,-32.65)" stroke="#000" stroke-width="0.8" fill="#fff"/>
<rect x="-1.3" y="-1.6" width="2.6" height="3.2" transform="translate(1063.5,260.8) rotate(108) translate(0,-32.65)" stroke="#000" stroke-width="0.8" fill="#fff"/>
<rect x="-1.3" y="-1.6" width="2.6" height="3.2" transform="translate(1063.5,260.8) rotate(117) translate(0,-32.65)" stroke="#000" stroke-width="0.8" fill="#fff"/>
<rect x="-1.3" y="-1.6" width="2.6" height="3.2" transform="translate(1063.5,260.8) rotate(126) translate(0,-32.65)" stroke="#000" stroke-width="0.8" fill="#fff"/>
<rect x="-1.3" y="-1.6" width="2.6" height="3.2" transform="translate(1063.5,260.8) rotate(135) translate(0,-32.65)" stroke="#000" stroke-width="0.8" fill="#fff"/>
<rect x="-1.3" y="-1.6" width="2.6" height="3.2" transform="translate(1063.5,260.8) rotate(144) translate(0,-32.65)" stroke="#000" stroke-width="0.8" fill="#fff"/>
<rect x="-1.3" y="-1.6" width="2.6" height="3.2" transform="translate(1063.5,260.8) rotate(153) translate(0,-32.65)" stroke="#000" stroke-width="0.8" fill="#fff"/>
<rect x="-1.3" y="-1.6" width="2.6" height="3.2" transform="translate(1063.5,260.8) rotate(162) translate(0,-32.65)" stroke="#000" stroke-width="0.8" fill="#fff"/>
<rect x="-1.3" y="-1.6" width="2.6" height="3.2" transform="translate(1063.5,260.8) rotate(171) translate(0,-32.65)" stroke="#000" stroke-width="0.8" fill="#fff"/>
<rect x="-1.3" y="-1.6" width="2.6" height="3.2" transform="translate(1063.5,260.8) rotate(180) translate(0,-32.65)" stroke="#000" stroke-width="0.8" fill="#fff"/>
<rect x="-1.3" y="-1.6" width="2.6" height="3.2" transform="translate(1063.5,260.8) rotate(189) translate(0,-32.65)" stroke="#000" stroke-width="0.8" fill="#fff"/>
<rect x="-1.3" y="-1.6" width="2.6" height="3.2" transform="translate(1063.5,260.8) rotate(198) translate(0,-32.65)" stroke="#000" stroke-width="0.8" fill="#fff"/>
<rect x="-1.3" y="-1.6" width="2.6" height="3.2" transform="translate(1063.5,260.8) rotate(207) translate(0,-32.65)" stroke="#000" stroke-width="0.8" fill="#fff"/>
<rect x="-1.3" y="-1.6" width="2.6" height="3.2" transform="translate(1063.5,260.8) rotate(216) translate(0,-32.65)" stroke="#000" stroke-width="0.8" fill="#fff"/>
<rect x="-1.3" y="-1.6" width="2.6" height="3.2" transform="translate(1063.5,260.8) rotate(225) translate(0,-32.65)" stroke="#000" stroke-width="0.8" fill="#fff"/>
<rect x="-1.3" y="-1.6" width="2.6" height="3.2" transform="translate(1063.5,260.8) rotate(234) translate(0,-32.65)" stroke="#000" stroke-width="0.8" fill="#fff"/>
<rect x="-1.3" y="-1.6" width="2.6" height="3.2" transform="translate(1063.5,260.8) rotate(243) translate(0,-32.65)" stroke="#000" stroke-width="0.8" fill="#fff"/>
<rect x="-1.3" y="-1.6" width="2.6" height="3.2" transform="translate(1063.5,260.8) rotate(252) translate(0,-32.65)" stroke="#000" stroke-width="0.8" fill="#fff"/>
<rect x="-1.3" y="-1.6" width="2.6" height="3.2" transform="translate(1063.5,260.8) rotate(261) translate(0,-32.65)" stroke="#000" stroke-width="0.8" fill="#fff"/>
<rect x="-1.3" y="-1.6" width="2.6" height="3.2" transform="translate(1063.5,260.8) rotate(270) translate(0,-32.65)" stroke="#000" stroke-width="0.8" fill="#fff"/>
<rect x="-1.3" y="-1.6" width="2.6" height="3.2" transform="translate(1063.5,260.8) rotate(279) translate(0,-32.65)" stroke="#000" stroke-width="0.8" fill="#fff"/>
<rect x="-1.3" y="-1.6" width="2.6" height="3.2" transform="translate(1063.5,260.8) rotate(288) translate(0,-32.65)" stroke="#000" stroke-width="0.8" fill="#fff"/>
<rect x="-1.3" y="-1.6" width="2.6" height="3.2" transform="translate(1063.5,260.8) rotate(297) translate(0,-32.65)" stroke="#000" stroke-width="0.8" fill="#fff"/>
<rect x="-1.3" y="-1.6" width="2.6" height="3.2" transform="translate(1063.5,260.8) rotate(306) translate(0,-32.65)" stroke="#000" stroke-width="0.8" fill="#fff"/>
<rect x="-1.3" y="-1.6" width="2.6" height="3.2" transform="translate(1063.5,260.8) rotate(315) translate(0,-32.65)" stroke="#000" stroke-width="0.8" fill="#fff"/>
<rect x="-1.3" y="-1.6" width="2.6" height="3.2" transform="translate(1063.5,260.8) rotate(324) translate(0,-32.65)" stroke="#000" stroke-width="0.8" fill="#fff"/>
<rect x="-1.3" y="-1.6" width="2.6" height="3.2" transform="translate(1063.5,260.8) rotate(333) translate(0,-32.65)" stroke="#000" stroke-width="0.8" fill="#fff"/>
<rect x="-1.3" y="-1.6" width="2.6" height="3.2" transform="translate(1063.5,260.8) rotate(342) translate(0,-32.65)" stroke="#000" stroke-width="0.8" fill="#fff"/>
<rect x="-1.3" y="-1.6" width="2.6" height="3.2" transform="translate(1063.5,260.8) rotate(351) translate(0,-32.65)" stroke="#000" stroke-width="0.8" fill="#fff"/>
<circle cx="1063.5" cy="260.8" r="28.5" stroke="#000" stroke-width="1.0" fill="none"/>
<circle cx="1063.5" cy="260.8" r="21.5" stroke="#000" stroke-width="2.6" fill="none"/>
<circle cx="1063.5" cy="260.8" r="17.6" stroke="#000" stroke-width="1.2" fill="none"/>
<line x1="955.8" y1="260.8" x2="1170.8" y2="260.8" stroke="#333" stroke-width="0.8" stroke-dasharray="20 4 3 4"/>
<line x1="1063.5" y1="133.0" x2="1063.5" y2="367.0" stroke="#333" stroke-width="0.8" stroke-dasharray="20 4 3 4"/>
<circle cx="1154.8" cy="260.8" r="3.7" stroke="#000" stroke-width="1.5" fill="#fff"/>
<circle cx="1128.1" cy="196.2" r="3.7" stroke="#000" stroke-width="1.5" fill="#fff"/>
<circle cx="1063.5" cy="169.5" r="3.7" stroke="#000" stroke-width="1.5" fill="#fff"/>
<circle cx="998.9" cy="196.2" r="3.7" stroke="#000" stroke-width="1.5" fill="#fff"/>
<circle cx="972.2" cy="260.8" r="3.7" stroke="#000" stroke-width="1.5" fill="#fff"/>
<circle cx="998.9" cy="325.4" r="3.7" stroke="#000" stroke-width="1.5" fill="#fff"/>
<circle cx="1063.5" cy="352.1" r="3.7" stroke="#000" stroke-width="1.5" fill="#fff"/>
<circle cx="1128.1" cy="325.4" r="3.7" stroke="#000" stroke-width="1.5" fill="#fff"/>
<circle cx="1028.6" cy="176.4" r="8.0" stroke="#000" stroke-width="1.8" fill="#fff"/>
<circle cx="1028.6" cy="176.4" r="4.4" stroke="#000" stroke-width="1.1" fill="none"/>
<circle cx="1028.6" cy="176.4" r="1.6" stroke="#000" stroke-width="0.7" fill="none"/>
<circle cx="1098.4" cy="345.2" r="8.0" stroke="#000" stroke-width="1.8" fill="#fff"/>
<circle cx="1098.4" cy="345.2" r="4.4" stroke="#000" stroke-width="1.1" fill="none"/>
<circle cx="1098.4" cy="345.2" r="1.6" stroke="#000" stroke-width="0.7" fill="none"/>
<g transform="translate(1063.5,260.8) rotate(-33.75)"><path d="M99.5,-4.15 L75,-4.15 L75,4.15 L99.5,4.15" stroke="#000" stroke-width="1.7" fill="#fff" stroke-linejoin="miter"/><path d="M75,-3.3500000000000005 L72.5,-1.6600000000000001 L72.5,1.6600000000000001 L75,3.3500000000000005 Z" stroke="#000" stroke-width="1.0" fill="#fff"/><line x1="69.5" y1="0" x2="104.5" y2="0" stroke="#222" stroke-width="0.8" stroke-dasharray="5 3"/></g>
<g transform="translate(1063.5,260.8) rotate(-78.75)"><path d="M99.5,-4.15 L75,-4.15 L75,4.15 L99.5,4.15" stroke="#000" stroke-width="1.7" fill="#fff" stroke-linejoin="miter"/><path d="M75,-3.3500000000000005 L72.5,-1.6600000000000001 L72.5,1.6600000000000001 L75,3.3500000000000005 Z" stroke="#000" stroke-width="1.0" fill="#fff"/><line x1="69.5" y1="0" x2="104.5" y2="0" stroke="#222" stroke-width="0.8" stroke-dasharray="5 3"/></g>
<g transform="translate(1063.5,260.8) rotate(-123.75)"><path d="M99.5,-4.15 L75,-4.15 L75,4.15 L99.5,4.15" stroke="#000" stroke-width="1.7" fill="#fff" stroke-linejoin="miter"/><path d="M75,-3.3500000000000005 L72.5,-1.6600000000000001 L72.5,1.6600000000000001 L75,3.3500000000000005 Z" stroke="#000" stroke-width="1.0" fill="#fff"/><line x1="69.5" y1="0" x2="104.5" y2="0" stroke="#222" stroke-width="0.8" stroke-dasharray="5 3"/></g>
<g transform="translate(1063.5,260.8) rotate(-168.75)"><path d="M99.5,-4.15 L75,-4.15 L75,4.15 L99.5,4.15" stroke="#000" stroke-width="1.7" fill="#fff" stroke-linejoin="miter"/><path d="M75,-3.3500000000000005 L72.5,-1.6600000000000001 L72.5,1.6600000000000001 L75,3.3500000000000005 Z" stroke="#000" stroke-width="1.0" fill="#fff"/><line x1="69.5" y1="0" x2="104.5" y2="0" stroke="#222" stroke-width="0.8" stroke-dasharray="5 3"/></g>
<g transform="translate(1063.5,260.8) rotate(-213.75)"><path d="M99.5,-4.15 L75,-4.15 L75,4.15 L99.5,4.15" stroke="#000" stroke-width="1.7" fill="#fff" stroke-linejoin="miter"/><path d="M75,-3.3500000000000005 L72.5,-1.6600000000000001 L72.5,1.6600000000000001 L75,3.3500000000000005 Z" stroke="#000" stroke-width="1.0" fill="#fff"/><line x1="69.5" y1="0" x2="104.5" y2="0" stroke="#222" stroke-width="0.8" stroke-dasharray="5 3"/></g>
<g transform="translate(1063.5,260.8) rotate(-258.75)"><path d="M99.5,-4.15 L75,-4.15 L75,4.15 L99.5,4.15" stroke="#000" stroke-width="1.7" fill="#fff" stroke-linejoin="miter"/><path d="M75,-3.3500000000000005 L72.5,-1.6600000000000001 L72.5,1.6600000000000001 L75,3.3500000000000005 Z" stroke="#000" stroke-width="1.0" fill="#fff"/><line x1="69.5" y1="0" x2="104.5" y2="0" stroke="#222" stroke-width="0.8" stroke-dasharray="5 3"/></g>
<g transform="translate(1063.5,260.8) rotate(-303.75)"><path d="M99.5,-4.15 L75,-4.15 L75,4.15 L99.5,4.15" stroke="#000" stroke-width="1.7" fill="#fff" stroke-linejoin="miter"/><path d="M75,-3.3500000000000005 L72.5,-1.6600000000000001 L72.5,1.6600000000000001 L75,3.3500000000000005 Z" stroke="#000" stroke-width="1.0" fill="#fff"/><line x1="69.5" y1="0" x2="104.5" y2="0" stroke="#222" stroke-width="0.8" stroke-dasharray="5 3"/></g>
<g transform="translate(1063.5,260.8) rotate(-348.75)"><path d="M99.5,-4.15 L75,-4.15 L75,4.15 L99.5,4.15" stroke="#000" stroke-width="1.7" fill="#fff" stroke-linejoin="miter"/><path d="M75,-3.3500000000000005 L72.5,-1.6600000000000001 L72.5,1.6600000000000001 L75,3.3500000000000005 Z" stroke="#000" stroke-width="1.0" fill="#fff"/><line x1="69.5" y1="0" x2="104.5" y2="0" stroke="#222" stroke-width="0.8" stroke-dasharray="5 3"/></g>
<path d="M1063.5,135.8 A125,125 0 0 1 1087.9,138.2" stroke="#1a1a1a" stroke-width="0.8" fill="none"/>
<path d="M1063.5,135.8 L1071.5,134.4 L1071.5,137.2 Z" fill="#000"/>
<path d="M1087.9,138.2 L1079.8,138.0 L1080.3,135.3 Z" fill="#000"/>
<path d="M1087.9,138.2 A125,125 0 0 1 1106.3,143.3" stroke="#1a1a1a" stroke-width="0.8" fill="none"/>
<line x1="1077.5" y1="190.2" x2="1088.5" y2="135.3" stroke="#333" stroke-width="0.7" stroke-dasharray="5 2"/>
<line x1="1025.2" y1="168.4" x2="1016.8" y2="148.1" stroke="#333" stroke-width="0.7" stroke-dasharray="5 2"/>
<path d="M1001.0,160.7 A118,118 0 0 1 1018.3,151.8" stroke="#1a1a1a" stroke-width="0.8" fill="none"/>
<path d="M1018.3,151.8 L1011.5,156.1 L1010.4,153.6 Z" fill="#000"/>
<text x="1023.0" y="142.3" font-size="12" text-anchor="start" font-family='"Liberation Sans", sans-serif' textLength="33" lengthAdjust="spacingAndGlyphs"  stroke="#000" stroke-width="0.22">22.5°</text>
<text x="1094.9" y="150.5" font-size="12" text-anchor="start" font-family='"Liberation Sans", sans-serif' textLength="37.6" lengthAdjust="spacingAndGlyphs"  stroke="#000" stroke-width="0.22">11.25°</text>
<text x="1041.0" y="399.9" font-size="11" text-anchor="start" font-family='"Liberation Serif", serif' textLength="47" lengthAdjust="spacingAndGlyphs" stroke="none">剖面 D-D</text>
<text x="1035.5" y="412.7" font-size="11" text-anchor="start" font-family='"Liberation Serif", serif' textLength="56.5" lengthAdjust="spacingAndGlyphs" stroke="none">比例 1 : 1</text>
<clipPath id="fclip"><path clip-rule="evenodd" d="M855.5,494.7 a75,75 0 1 0 150,0 a75,75 0 1 0 -150,0 Z M883.5,494.7 a47,47 0 1 0 94,0 a47,47 0 1 0 -94,0 Z M895.5,494.7 a35,35 0 1 0 70,0 a35,35 0 1 0 -70,0 Z M908.5,494.7 a22,22 0 1 0 44,0 a22,22 0 1 0 -44,0 Z"/></clipPath>
<g clip-path="url(#fclip)"><rect x="855.5" y="419.7" width="150" height="150" fill="url(#hatch2)"/></g>
<circle cx="930.5" cy="494.7" r="75.0" stroke="#000" stroke-width="2" fill="none"/>
<circle cx="930.5" cy="494.7" r="47.0" stroke="#000" stroke-width="1.2" fill="none"/>
<circle cx="930.5" cy="494.7" r="35.0" stroke="#000" stroke-width="1.1" fill="none"/>
<circle cx="930.5" cy="494.7" r="28.5" stroke="#000" stroke-width="1.0" fill="none"/>
<circle cx="930.5" cy="494.7" r="22.0" stroke="#000" stroke-width="2.2" fill="none"/>
<circle cx="930.5" cy="494.7" r="18.5" stroke="#000" stroke-width="1.1" fill="none"/>
<circle cx="930.5" cy="494.7" r="16.5" stroke="#000" stroke-width="1.0" fill="none"/>
<line x1="847.5" y1="494.7" x2="1013.5" y2="494.7" stroke="#333" stroke-width="0.8" stroke-dasharray="16 4 3 4"/>
<line x1="930.5" y1="390.0" x2="930.5" y2="580.0" stroke="#333" stroke-width="0.8" stroke-dasharray="16 4 3 4"/>
<circle cx="985.1" cy="463.2" r="5.0" stroke="#000" stroke-width="1.3" fill="none"/>
<circle cx="962.0" cy="440.1" r="5.0" stroke="#000" stroke-width="1.3" fill="none"/>
<circle cx="899.0" cy="440.1" r="5.0" stroke="#000" stroke-width="1.3" fill="none"/>
<circle cx="875.9" cy="463.2" r="5.0" stroke="#000" stroke-width="1.3" fill="none"/>
<circle cx="875.9" cy="526.2" r="5.0" stroke="#000" stroke-width="1.3" fill="none"/>
<circle cx="899.0" cy="549.3" r="5.0" stroke="#000" stroke-width="1.3" fill="none"/>
<circle cx="962.0" cy="549.3" r="5.0" stroke="#000" stroke-width="1.3" fill="none"/>
<circle cx="985.1" cy="526.2" r="5.0" stroke="#000" stroke-width="1.3" fill="none"/>
<circle cx="993.7" cy="494.7" r="8.5" stroke="#000" stroke-width="1.6" fill="none"/>
<circle cx="867.3" cy="494.7" r="8.5" stroke="#000" stroke-width="1.6" fill="none"/>
<g transform="translate(930.5,494.7) rotate(-15)"><path d="M75.5,-4.25 L54.5,-4.25 L54.5,4.25 L75.5,4.25" stroke="#000" stroke-width="1.7" fill="#fff" stroke-linejoin="miter"/><path d="M54.5,-3.45 L52.0,-1.7 L52.0,1.7 L54.5,3.45 Z" stroke="#000" stroke-width="1.0" fill="#fff"/><line x1="49.0" y1="0" x2="80.5" y2="0" stroke="#222" stroke-width="0.8" stroke-dasharray="5 3"/></g>
<g transform="translate(930.5,494.7) rotate(-45)"><path d="M75.5,-4.25 L54.5,-4.25 L54.5,4.25 L75.5,4.25" stroke="#000" stroke-width="1.7" fill="#fff" stroke-linejoin="miter"/><path d="M54.5,-3.45 L52.0,-1.7 L52.0,1.7 L54.5,3.45 Z" stroke="#000" stroke-width="1.0" fill="#fff"/><line x1="49.0" y1="0" x2="80.5" y2="0" stroke="#222" stroke-width="0.8" stroke-dasharray="5 3"/></g>
<g transform="translate(930.5,494.7) rotate(-75)"><path d="M75.5,-4.25 L54.5,-4.25 L54.5,4.25 L75.5,4.25" stroke="#000" stroke-width="1.7" fill="#fff" stroke-linejoin="miter"/><path d="M54.5,-3.45 L52.0,-1.7 L52.0,1.7 L54.5,3.45 Z" stroke="#000" stroke-width="1.0" fill="#fff"/><line x1="49.0" y1="0" x2="80.5" y2="0" stroke="#222" stroke-width="0.8" stroke-dasharray="5 3"/></g>
<g transform="translate(930.5,494.7) rotate(-105)"><path d="M75.5,-4.25 L54.5,-4.25 L54.5,4.25 L75.5,4.25" stroke="#000" stroke-width="1.7" fill="#fff" stroke-linejoin="miter"/><path d="M54.5,-3.45 L52.0,-1.7 L52.0,1.7 L54.5,3.45 Z" stroke="#000" stroke-width="1.0" fill="#fff"/><line x1="49.0" y1="0" x2="80.5" y2="0" stroke="#222" stroke-width="0.8" stroke-dasharray="5 3"/></g>
<g transform="translate(930.5,494.7) rotate(-135)"><path d="M75.5,-4.25 L54.5,-4.25 L54.5,4.25 L75.5,4.25" stroke="#000" stroke-width="1.7" fill="#fff" stroke-linejoin="miter"/><path d="M54.5,-3.45 L52.0,-1.7 L52.0,1.7 L54.5,3.45 Z" stroke="#000" stroke-width="1.0" fill="#fff"/><line x1="49.0" y1="0" x2="80.5" y2="0" stroke="#222" stroke-width="0.8" stroke-dasharray="5 3"/></g>
<g transform="translate(930.5,494.7) rotate(-165)"><path d="M75.5,-4.25 L54.5,-4.25 L54.5,4.25 L75.5,4.25" stroke="#000" stroke-width="1.7" fill="#fff" stroke-linejoin="miter"/><path d="M54.5,-3.45 L52.0,-1.7 L52.0,1.7 L54.5,3.45 Z" stroke="#000" stroke-width="1.0" fill="#fff"/><line x1="49.0" y1="0" x2="80.5" y2="0" stroke="#222" stroke-width="0.8" stroke-dasharray="5 3"/></g>
<g transform="translate(930.5,494.7) rotate(-195)"><path d="M75.5,-4.25 L54.5,-4.25 L54.5,4.25 L75.5,4.25" stroke="#000" stroke-width="1.7" fill="#fff" stroke-linejoin="miter"/><path d="M54.5,-3.45 L52.0,-1.7 L52.0,1.7 L54.5,3.45 Z" stroke="#000" stroke-width="1.0" fill="#fff"/><line x1="49.0" y1="0" x2="80.5" y2="0" stroke="#222" stroke-width="0.8" stroke-dasharray="5 3"/></g>
<g transform="translate(930.5,494.7) rotate(-225)"><path d="M75.5,-4.25 L54.5,-4.25 L54.5,4.25 L75.5,4.25" stroke="#000" stroke-width="1.7" fill="#fff" stroke-linejoin="miter"/><path d="M54.5,-3.45 L52.0,-1.7 L52.0,1.7 L54.5,3.45 Z" stroke="#000" stroke-width="1.0" fill="#fff"/><line x1="49.0" y1="0" x2="80.5" y2="0" stroke="#222" stroke-width="0.8" stroke-dasharray="5 3"/></g>
<g transform="translate(930.5,494.7) rotate(-255)"><path d="M75.5,-4.25 L54.5,-4.25 L54.5,4.25 L75.5,4.25" stroke="#000" stroke-width="1.7" fill="#fff" stroke-linejoin="miter"/><path d="M54.5,-3.45 L52.0,-1.7 L52.0,1.7 L54.5,3.45 Z" stroke="#000" stroke-width="1.0" fill="#fff"/><line x1="49.0" y1="0" x2="80.5" y2="0" stroke="#222" stroke-width="0.8" stroke-dasharray="5 3"/></g>
<g transform="translate(930.5,494.7) rotate(-285)"><path d="M75.5,-4.25 L54.5,-4.25 L54.5,4.25 L75.5,4.25" stroke="#000" stroke-width="1.7" fill="#fff" stroke-linejoin="miter"/><path d="M54.5,-3.45 L52.0,-1.7 L52.0,1.7 L54.5,3.45 Z" stroke="#000" stroke-width="1.0" fill="#fff"/><line x1="49.0" y1="0" x2="80.5" y2="0" stroke="#222" stroke-width="0.8" stroke-dasharray="5 3"/></g>
<g transform="translate(930.5,494.7) rotate(-315)"><path d="M75.5,-4.25 L54.5,-4.25 L54.5,4.25 L75.5,4.25" stroke="#000" stroke-width="1.7" fill="#fff" stroke-linejoin="miter"/><path d="M54.5,-3.45 L52.0,-1.7 L52.0,1.7 L54.5,3.45 Z" stroke="#000" stroke-width="1.0" fill="#fff"/><line x1="49.0" y1="0" x2="80.5" y2="0" stroke="#222" stroke-width="0.8" stroke-dasharray="5 3"/></g>
<g transform="translate(930.5,494.7) rotate(-345)"><path d="M75.5,-4.25 L54.5,-4.25 L54.5,4.25 L75.5,4.25" stroke="#000" stroke-width="1.7" fill="#fff" stroke-linejoin="miter"/><path d="M54.5,-3.45 L52.0,-1.7 L52.0,1.7 L54.5,3.45 Z" stroke="#000" stroke-width="1.0" fill="#fff"/><line x1="49.0" y1="0" x2="80.5" y2="0" stroke="#222" stroke-width="0.8" stroke-dasharray="5 3"/></g>
<rect x="926.5" y="458.2" width="8" height="7.5" stroke="#000" stroke-width="1.3" fill="#fff"/>
<rect x="959.5" y="490.7" width="7.5" height="8" stroke="#000" stroke-width="1.3" fill="#fff"/>
<line x1="926.5" y1="462.7" x2="934.5" y2="462.7" stroke="#1a1a1a" stroke-width="0.8" fill="none"/>
<line x1="963.5" y1="490.7" x2="963.5" y2="498.7" stroke="#1a1a1a" stroke-width="0.8" fill="none"/>
<path d="M916.3,393.7 A102,102 0 0 1 930.5,392.7" stroke="#1a1a1a" stroke-width="0.8" fill="none"/>
<path d="M930.5,392.7 L922.5,394.1 L922.5,391.3 Z" fill="#000"/>
<path d="M956.9,396.2 A102,102 0 0 1 975.2,403.0" stroke="#1a1a1a" stroke-width="0.8" fill="none"/>
<path d="M956.9,396.2 L949.5,399.6 L948.8,396.9 Z" fill="#000"/>
<line x1="949.9" y1="422.3" x2="957.4" y2="394.2" stroke="#333" stroke-width="0.7" stroke-dasharray="5 2"/>
<text x="938.6" y="398.5" font-size="12" text-anchor="start" font-family='"Liberation Sans", sans-serif' textLength="20.4" lengthAdjust="spacingAndGlyphs"  stroke="#000" stroke-width="0.22">15°</text>
<text x="1049.6" y="499.0" font-size="11.5" text-anchor="start" font-family='"Liberation Sans", sans-serif' textLength="102" lengthAdjust="spacingAndGlyphs"  stroke="#000" stroke-width="0.22">12 x&#160;&#160;M3 - 6H ↧ 6</text>
<text x="1089.0" y="507.7" font-size="9.5" text-anchor="start" font-family='"Liberation Sans", sans-serif' textLength="21.6" lengthAdjust="spacingAndGlyphs"  stroke="#000" stroke-width="0.3">均布</text>
<text x="1042.6" y="519.2" font-size="11" text-anchor="start" font-family='"Liberation Sans", sans-serif' textLength="115" lengthAdjust="spacingAndGlyphs"  stroke="#000" stroke-width="0.3">输出端径向安装螺钉孔</text>
<line x1="1037.0" y1="523.2" x2="1159.0" y2="523.2" stroke="#1a1a1a" stroke-width="0.8" fill="none"/>
<line x1="1037.0" y1="523.2" x2="1006.0" y2="514.0" stroke="#1a1a1a" stroke-width="0.8" fill="none"/>
<path d="M1006.0,514.0 L1014.1,514.8 L1013.2,517.7 Z" fill="#000"/>
</svg></body></html>
